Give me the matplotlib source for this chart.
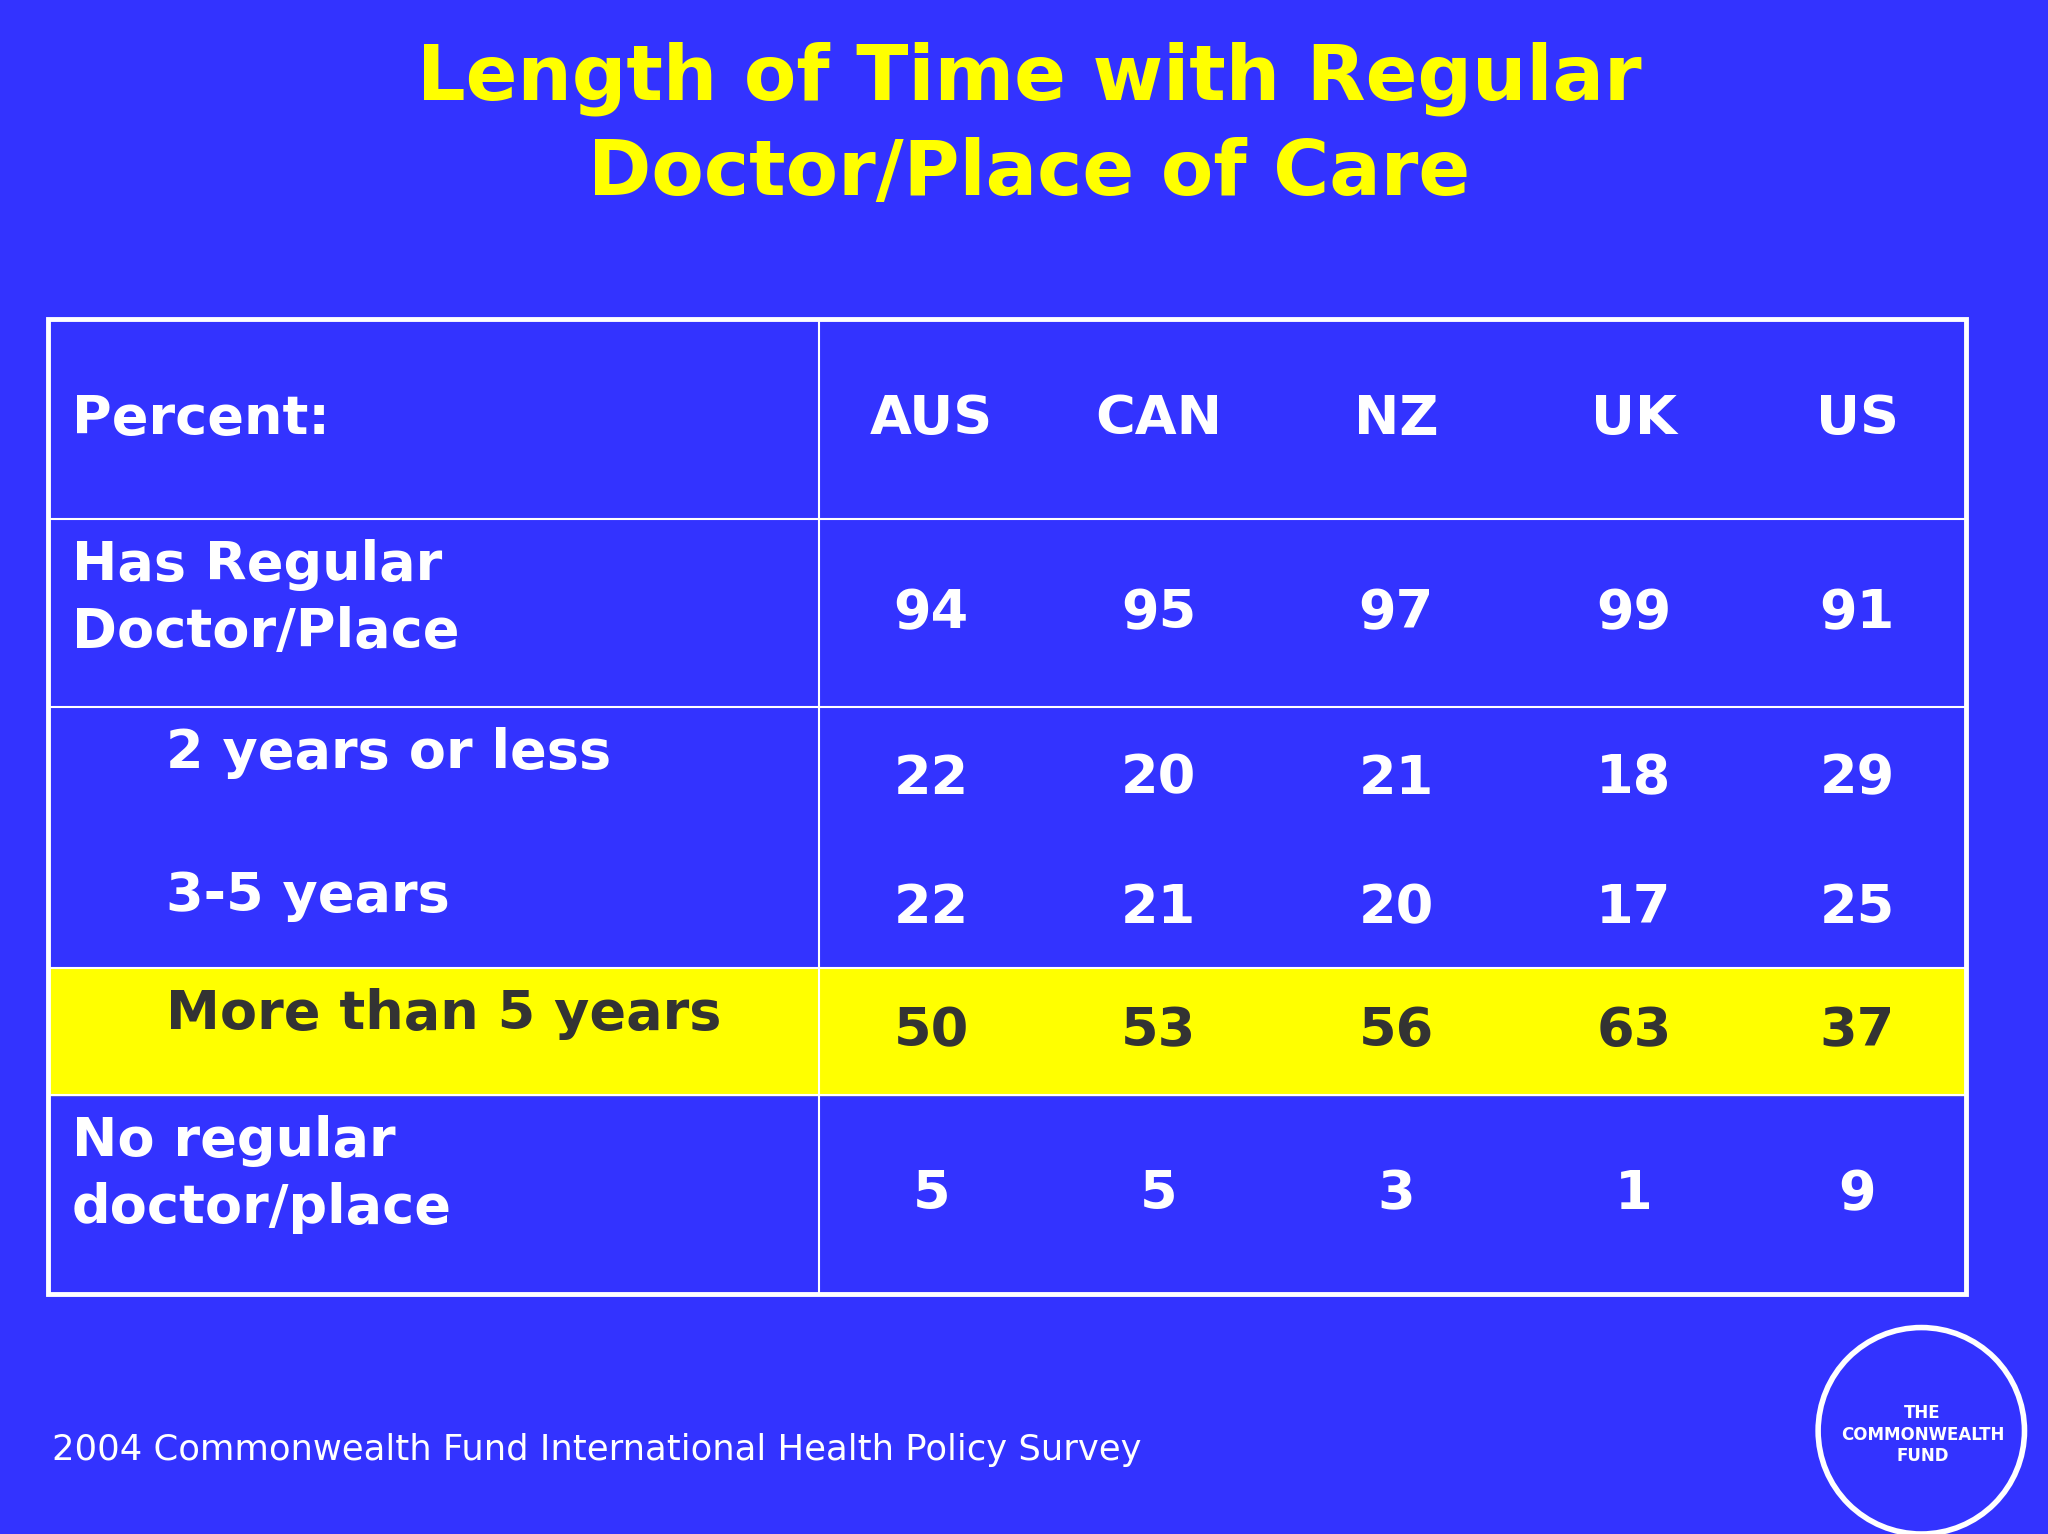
import matplotlib
matplotlib.use("Agg")
import matplotlib.pyplot as plt
from matplotlib.patches import Rectangle, Circle

countries = ["AUS", "CAN", "NZ", "UK", "US"]
row_labels = ["Has Regular\nDoctor/Place", "2 years or less", "3-5 years", "More than 5 years", "No regular\ndoctor/place"]
has_regular = [94, 95, 97, 99, 91]
two_or_less = [22, 20, 21, 18, 29]
three_five = [22, 21, 20, 17, 25]
more_five = [50, 53, 56, 63, 37]
no_regular = [5, 5, 3, 1, 9]

BG = "#3333FF"
YEL = "#FFFF00"
fig = plt.figure(figsize=(20.48, 15.34), dpi=100, facecolor=BG)
ax = fig.add_axes([0, 0, 1, 1])
ax.set_xlim(0, 1568); ax.set_ylim(1174, 0); ax.axis("off")
ax.set_facecolor(BG)

ax.text(788, 60, "Length of Time with Regular", color=YEL, fontsize=55, fontweight="bold", ha="center", va="center")
ax.text(788, 133, "Doctor/Place of Care", color=YEL, fontsize=55, fontweight="bold", ha="center", va="center")

L, R, T, B = 37, 1505, 244, 990
ax.add_patch(Rectangle((L, 741), R - L, 838 - 741, color=YEL, zorder=1))
ax.add_patch(Rectangle((L, T), R - L, B - T, fill=False, ec="white", lw=3.5, zorder=3))
for y in [397, 541, 741, 838]:
    ax.plot([L, R], [y, y], color="white", lw=1.5, zorder=3)
ax.plot([627, 627], [T, B], color="white", lw=1.5, zorder=3)

xs = [713, 887, 1069, 1251, 1422]
fs = 39
ax.text(55, 321, "Percent:", color="white", fontsize=fs, fontweight="bold", va="center")
for x, c in zip(xs, countries):
    ax.text(x, 321, c, color="white", fontsize=fs, fontweight="bold", ha="center", va="center")

rows = [
    (row_labels[0], 55, 458, has_regular, 469, "white"),
    (row_labels[1], 127, 576, two_or_less, 596, "white"),
    (row_labels[2], 127, 686, three_five, 695, "white"),
    (row_labels[3], 127, 776, more_five, 789, "#333333"),
    (row_labels[4], 55, 899, no_regular, 914, "white"),
]
for lab, lx, ly, vals, vy, col in rows:
    ax.text(lx, ly, lab, color=col, fontsize=fs, fontweight="bold", va="center", linespacing=1.38, zorder=4)
    for x, v in zip(xs, vals):
        ax.text(x, vy, str(v), color=col, fontsize=fs, fontweight="bold", ha="center", va="center", zorder=4)

ax.text(40, 1110, "2004 Commonwealth Fund International Health Policy Survey", color="white", fontsize=25.5, va="center")
ax.add_patch(Circle((1471, 1095), 79, fill=False, ec="white", lw=4))
ax.text(1472, 1098, "THE\nCOMMONWEALTH\nFUND", color="white", fontsize=12, fontweight="bold", ha="center", va="center", linespacing=1.25)

fig.savefig("out.png", dpi=100, facecolor=BG)
